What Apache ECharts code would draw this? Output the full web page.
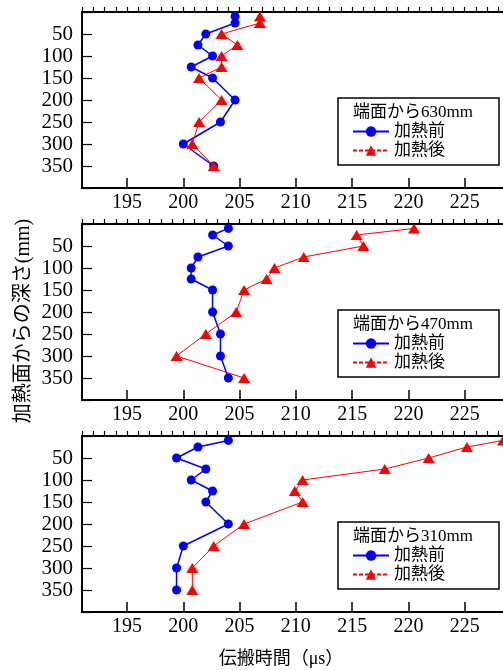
<!DOCTYPE html>
<html><head><meta charset="utf-8">
<script src="https://cdn.jsdelivr.net/npm/echarts@6/dist/echarts.min.js"></script>
<style>html,body{margin:0;padding:0;background:#fff}#c{width:503px;height:670px}</style>
</head><body><div id="c"></div>
<script>
const depths = [10, 25, 50, 75, 100, 125, 150, 200, 250, 300, 350];
const xTickLabels = [195, 200, 205, 210, 215, 220, 225];
const xMajorTicks = [195, 200, 205, 210, 215, 220, 225, 230];
const yTickLabels = [50, 100, 150, 200, 250, 300, 350];
const panelTitles = ['端面から630mm', '端面から470mm', '端面から310mm'];
const before630 = [204.6, 204.6, 202.0, 201.3, 202.6, 200.7, 202.6, 204.6, 203.3, 200.0, 202.7];
const after630  = [206.8, 206.8, 203.4, 204.8, 203.4, 203.4, 201.4, 203.4, 201.4, 200.8, 202.7];
const before470 = [204.0, 202.6, 204.0, 201.3, 200.7, 200.7, 202.6, 202.6, 203.3, 203.3, 204.0];
const after470  = [220.5, 215.4, 216.0, 210.7, 208.1, 207.4, 205.4, 204.7, 202.0, 199.4, 205.4];
const before310 = [204.0, 201.3, 199.4, 202.0, 200.7, 202.6, 202.0, 204.0, 200.0, 199.4, 199.4];
const after310  = [228.4, 225.2, 221.8, 217.9, 210.6, 209.9, 210.6, 205.4, 202.7, 200.8, 200.8];
const seriesNames = ['加熱前', '加熱後'];
const yTitle = '加熱面からの深さ(mm)';
const xTitle = '伝搬時間（μs）';

const panels = [[before630, after630], [before470, after470], [before310, after310]];
const FONT = "Liberation Serif, Noto Sans CJK JP, serif";
const tops = [12, 224, 436];
const H = 176;

const grid = [], xAxis = [], yAxis = [], series = [], legend = [], graphic = [];
panels.forEach((p, i) => {
  grid.push({left: 82, top: tops[i], width: 439, height: H, show: true, borderColor: '#000', borderWidth: 2,
    backgroundColor: 'transparent', containLabel: false, outerBoundsMode: 'none'});
  xAxis.push({gridIndex: i, type: 'value', min: 191, max: 230, interval: 1, position: 'bottom',
    axisLine: {show: true, lineStyle: {color: '#000', width: 2}},
    axisTick: {show: true, inside: true, length: 5, lineStyle: {color: '#000', width: 1.2}},
    axisLabel: {margin: 5, fontSize: 20, color: '#000', fontFamily: FONT,
      formatter: v => xTickLabels.includes(Math.round(v)) ? String(Math.round(v)) : ''},
    splitLine: {show: false}});
  xAxis.push({gridIndex: i, type: 'value', min: 191, max: 230, position: 'bottom',
    axisLine: {show: false},
    axisTick: {show: true, inside: true, length: 10, customValues: xMajorTicks, lineStyle: {color: '#000', width: 1.5}},
    axisLabel: {show: false}, splitLine: {show: false}});
  yAxis.push({gridIndex: i, type: 'value', inverse: true, min: 0, max: 400, interval: 50,
    axisLine: {show: true, lineStyle: {color: '#000', width: 2}},
    axisTick: {show: true, inside: true, length: 10, lineStyle: {color: '#000', width: 1.2}},
    axisLabel: {margin: 9, fontSize: 21, color: '#000', fontFamily: FONT,
      formatter: v => yTickLabels.includes(v) ? String(v) : ''},
    splitLine: {show: false}});
  series.push({name: seriesNames[0], type: 'line', xAxisIndex: 2 * i, yAxisIndex: i,
    data: p[0].map((v, k) => [v, depths[k]]), symbol: 'circle', symbolSize: 9,
    itemStyle: {color: '#0000ff'}, lineStyle: {color: '#0000ff', width: 1.5}, animation: false, z: 3});
  series.push({name: seriesNames[1], type: 'line', xAxisIndex: 2 * i, yAxisIndex: i,
    data: p[1].map((v, k) => [v, depths[k]]), symbol: 'triangle', symbolSize: [12, 10],
    itemStyle: {color: '#ff0000'}, lineStyle: {color: '#ff0000', width: 1}, animation: false, z: 4});
  legend.push({data: [{name: seriesNames[0]}, {name: seriesNames[1], lineStyle: {type: [4, 2]}}],
    orient: 'vertical', left: 352, top: 123 + 212 * i, itemWidth: 36, itemHeight: 13, itemGap: 2, padding: 0,
    selectedMode: false, textStyle: {fontSize: 17, fontFamily: FONT, color: '#000'}});
  graphic.push({type: 'rect', shape: {x: 338, y: 98 + 212 * i, width: 161, height: 67},
    style: {fill: '#fff', stroke: '#000', lineWidth: 1.5}, z: 1});
  graphic.push({type: 'text', x: 353, y: 113 + 212 * i, z: 2,
    style: {text: panelTitles[i], fontSize: 17, fontFamily: FONT, fill: '#000', align: 'left', verticalAlign: 'middle'}});
});
graphic.push({type: 'text', x: 24, y: 321, rotation: Math.PI / 2,
  style: {text: yTitle, fontSize: 20, fontFamily: FONT, fill: '#000', align: 'center', verticalAlign: 'middle'}});
graphic.push({type: 'text', x: 281, y: 659,
  style: {text: xTitle, fontSize: 18, fontFamily: FONT, fill: '#000', align: 'center', verticalAlign: 'middle'}});

const chart = echarts.init(document.getElementById('c'), null, {renderer: 'canvas'});
chart.setOption({animation: false, backgroundColor: '#fff', grid, xAxis, yAxis, series, legend, graphic});
</script></body></html>
